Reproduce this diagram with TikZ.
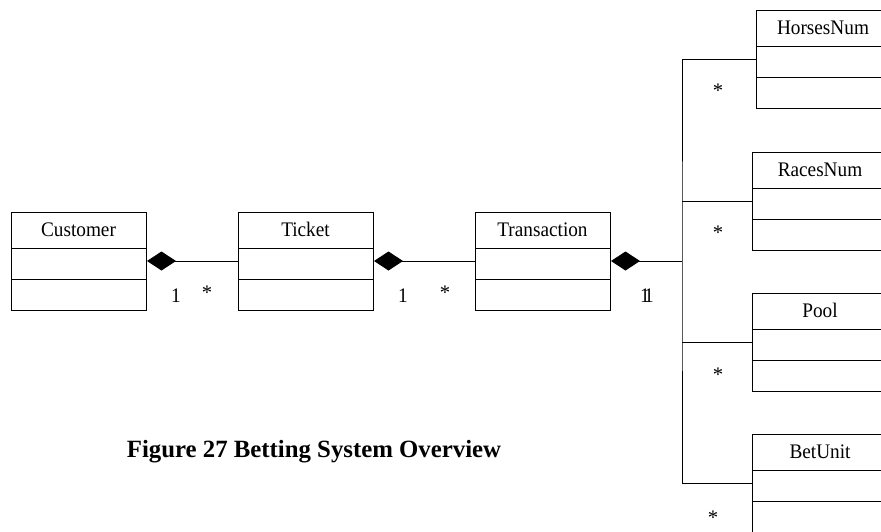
\documentclass[tikz,border=0pt]{standalone}
\usepackage{fontspec}
\setmainfont{Liberation Serif}
\usetikzlibrary{arrows.meta}

% slightly condensed label text
\newcommand\narrow[1]{\scalebox{0.93}[1]{#1}}

% one UML class: name, left x, top y, width, title
\newcommand\umlclass[5]{%
  \node[classbox, minimum width=#4pt, anchor=north west] (#1) at (#2,#3) {};
  \draw (#1.north west) ++(0,36) -- ++(#4,0);
  \draw (#1.north west) ++(0,67) -- ++(#4,0);
  \node[classname, anchor=base] (#1-title) at ([xshift=#4pt/2, yshift=-24pt]#1.north west) {\narrow{#5}};
  \coordinate (#1-l) at ([yshift=-49pt]#1.north west);
  \coordinate (#1-r) at ([yshift=-49pt]#1.north east);
}

\begin{document}
\begin{tikzpicture}[x=1pt, y=-1pt, line width=1pt,
  classbox/.style={draw, rectangle, minimum height=98pt, inner sep=0pt},
  classname/.style={font=\fontsize{20.7}{24}\selectfont, inner sep=0pt},
  mult/.style={font=\fontsize{20.7}{24}\selectfont, inner sep=0pt},
  caption/.style={font=\fontsize{24.8}{28}\selectfont\bfseries, inner sep=0pt},
  whole/.style={-{Diamond[length=29pt 0, width=19pt 0]}}]
  \useasboundingbox (0,0) rectangle (881,531);
  \clip (0,0) rectangle (881,531);

  % main chain of classes
  \umlclass{cust}{11}{212}{135}{Customer}
  \umlclass{tick}{238}{212}{135}{Ticket}
  \umlclass{trans}{475}{212}{135}{Transaction}

  % classes held by the transaction
  \umlclass{horses}{756}{10}{134}{HorsesNum}
  \umlclass{races}{752}{152}{136}{RacesNum}
  \umlclass{pool}{752}{293}{136}{Pool}
  \umlclass{betunit}{752}{434}{136}{BetUnit}

  % composition links
  \draw[whole] (tick-l) -- (cust-r);
  \draw[whole] (trans-l) -- (tick-r);

  \coordinate (spine) at (682,261);
  \draw[whole] (spine) -- (trans-r);
  \draw (horses-l) -| (spine) |- (betunit-l);
  \draw (races-l) -- (races-l -| spine);
  \draw (pool-l) -- (pool-l -| spine);

  % multiplicities
  \node[mult, anchor=base] (m1) at (176,302) {\narrow{1}};
  \node[mult] (m2) at (207,293) {*};
  \node[mult, anchor=base] (m3) at (403,302) {\narrow{1}};
  \node[mult] (m4) at (445,293) {*};
  \node[mult, anchor=base] (m5) at (645,302) {\narrow{1}};
  \node[mult, anchor=base] (m6) at (649,302) {\narrow{1}};
  \node[mult] (m7) at (718,91) {*};
  \node[mult] (m8) at (718,233) {*};
  \node[mult] (m9) at (718,375) {*};
  \node[mult] (m10) at (713,518) {*};

  \node[caption] (cap) at (314,452) {Figure 27 Betting System Overview};
\end{tikzpicture}
\end{document}
